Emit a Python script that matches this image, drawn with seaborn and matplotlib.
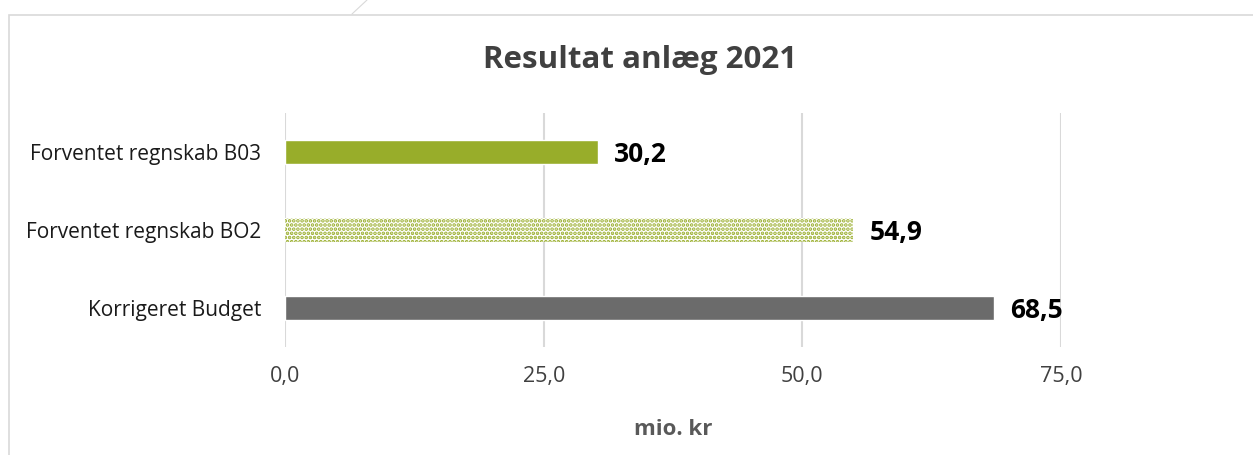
import matplotlib
matplotlib.use("Agg")
import matplotlib.pyplot as plt
import seaborn as sns
from matplotlib.lines import Line2D
from matplotlib.patches import Rectangle

# data
categories = ["Forventet regnskab B03", "Forventet regnskab BO2", "Korrigeret Budget"]
values = [30.2, 54.9, 68.5]
value_labels = ["30,2", "54,9", "68,5"]
bar_colors = ["#98AD2A", "#98AD2A", "#6B6B6B"]
x_ticks = [0, 25, 50, 75]
x_ticklabels = ["0,0", "25,0", "50,0", "75,0"]

sns.set_style("white")
plt.rcParams["font.family"] = ["Open Sans", "DejaVu Sans"]
plt.rcParams["hatch.linewidth"] = 1.8

fig = plt.figure(figsize=(12.53, 4.55), dpi=100)
ax = fig.add_axes([0.2275, 0.2374, 0.8468 - 0.2275, 0.7516 - 0.2374])

sns.barplot(x=values, y=categories, hue=categories, palette=bar_colors,
            legend=False, width=0.32, orient="h", ax=ax, saturation=1)

# dotted fill for the BO2 bar
p = ax.patches[1]
p.set_facecolor("white")
p.set_edgecolor("#98AD2A")
p.set_linewidth(0)
p.set_hatch("....")

# data labels
for i, (v, lab) in enumerate(zip(values, value_labels)):
    ax.text(v + 1.6, i + 0.03, lab, va="center", ha="left",
            fontsize=19, fontweight="bold", color="black")

ax.set_xlim(0, 75)
ax.set_ylim(2.5, -0.5)
ax.set_xticks(x_ticks)
ax.set_xticklabels(x_ticklabels, fontsize=15.5, color="#404040")
ax.tick_params(axis="x", length=0, pad=14)
ax.tick_params(axis="y", length=0, pad=17, labelsize=15, labelcolor="#1a1a1a")
ax.grid(axis="x", color="#d9d9d9", linewidth=1.5)
ax.grid(axis="y", visible=False)
ax.set_axisbelow(True)
for s in ax.spines.values():
    s.set_visible(False)

ax.set_xlabel("mio. kr", fontsize=16, fontweight="bold", color="#595959", labelpad=22.5)
ax.set_ylabel("")

fig.text(0.511, 1 - 60 / 455, "Resultat anlæg 2021", ha="center", va="center",
         fontsize=22.5, fontweight="bold", color="#404040")

# chart frame and stray line at the top
fig.patches.append(Rectangle((9 / 1253, -0.1), 1.2, 1 - 15 / 455 + 0.1,
                             transform=fig.transFigure, fill=False,
                             edgecolor="#d9d9d9", linewidth=1.2))
fig.lines.append(Line2D([367 / 1253, 352 / 1253], [1.0, 1 - 14 / 455],
                        transform=fig.transFigure, color="#d9d9d9", linewidth=0.8))

fig.savefig("out.png", dpi=100)
